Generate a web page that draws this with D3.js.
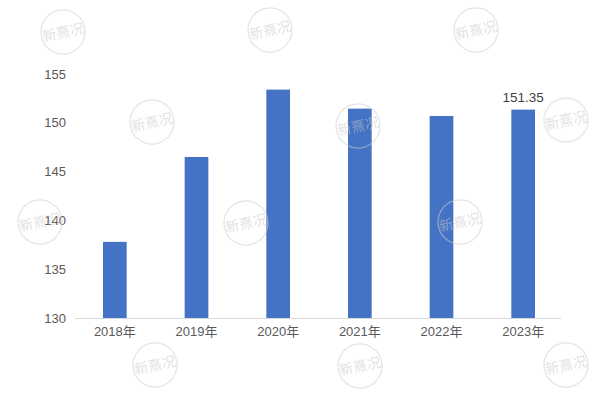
<!DOCTYPE html>
<html>
<head>
<meta charset="utf-8">
<script src="https://cdn.jsdelivr.net/npm/d3@7"></script>
<style>
  html, body { margin: 0; padding: 0; background: #fff; }
  svg { display: block; font-family: "Liberation Sans", Arial, "Noto Sans CJK SC", sans-serif; }
</style>
</head>
<body>
<svg id="chart" width="600" height="400"></svg>
<script>
const categories = ["2018年", "2019年", "2020年", "2021年", "2022年", "2023年"];
const values = [137.8, 146.5, 153.4, 151.45, 150.7, 151.35];
const yTicks = [130, 135, 140, 145, 150, 155];
const labelledCategory = "2023年";
const watermarkText = "新熹况";

const svg = d3.select("#chart");

const x = d3.scaleBand().domain(categories).range([74, 564]).paddingInner(0.71).paddingOuter(0.355);
const y = d3.scaleLinear().domain([130, 155]).range([318, 74]);

// bars
svg.append("g").selectAll("rect").data(categories).join("rect")
  .attr("x", d => x(d))
  .attr("width", x.bandwidth())
  .attr("y", (d, i) => y(values[i]))
  .attr("height", (d, i) => y(130) - y(values[i]))
  .attr("fill", "#4472C4");

// y axis (labels only)
const yAxis = d3.axisLeft(y).tickValues(yTicks).tickSize(0).tickPadding(0).tickFormat(d3.format("d"));
const gy = svg.append("g").attr("transform", "translate(66,0)").call(yAxis);
gy.select(".domain").remove();
gy.selectAll("text").attr("font-size", 13).attr("fill", "#595959").attr("font-family", "'Liberation Sans', Arial, sans-serif");

// x axis
const xAxis = d3.axisBottom(x).tickSize(0).tickPadding(9);
const gx = svg.append("g").attr("transform", "translate(0,318)").call(xAxis);
gx.select(".domain").attr("stroke", "#d9d9d9").attr("stroke-width", 1).attr("d", "M75,0.5H561");
gx.selectAll("text").attr("font-size", 13).attr("fill", "#595959")
  .attr("font-family", "'Liberation Sans', Arial, 'Noto Sans CJK SC', sans-serif");

// data label
const li = categories.indexOf(labelledCategory);
svg.append("text")
  .attr("x", x(labelledCategory) + x.bandwidth() / 2)
  .attr("y", y(values[li]) - 8)
  .attr("text-anchor", "middle")
  .attr("font-size", 13.5).attr("fill", "#404040")
  .text(d3.format(".2f")(values[li]));

// watermark decoration (drawn on top, faint)
const marks = [[63,32],[270,30],[476,30],[152,122],[358,126],[566,120],[40,222],[246,223],[460,222],[155,365],[360,366],[566,365]];
const wm = svg.append("g").attr("class", "watermarks").attr("opacity", 0.55);
marks.forEach(([mx, my]) => {
  const g = wm.append("g").attr("transform", `translate(${mx},${my}) rotate(-12)`);
  g.append("circle").attr("r", 22).attr("fill", "none").attr("stroke", "#cfcfcf").attr("stroke-width", 1.3);
  g.append("text").attr("text-anchor", "middle").attr("dy", "0.38em")
    .attr("font-size", 14).attr("fill", "#c8c8c8")
    .attr("font-family", "'Noto Sans CJK SC', sans-serif")
    .text(watermarkText);
});
</script>
</body>
</html>
